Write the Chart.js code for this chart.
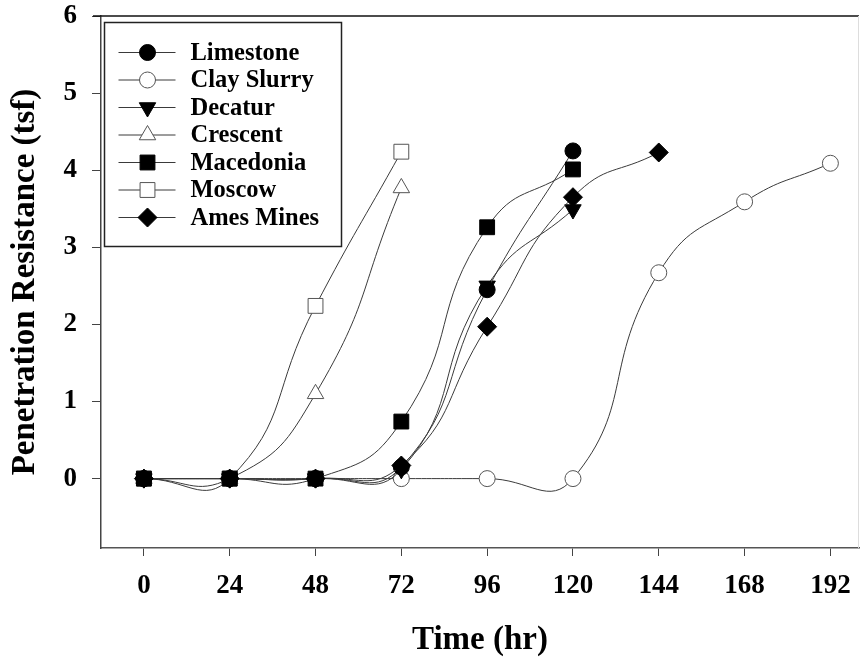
<!DOCTYPE html>
<html><head><meta charset="utf-8">
<script src="https://cdn.jsdelivr.net/npm/chart.js@4"></script>
<style>html,body{margin:0;padding:0;background:#fff}#wrap{width:860px;height:661px}</style>
</head><body><div id="wrap"><canvas id="c" width="860" height="661"></canvas></div>
<script>
// ---- data ----
const xTicks = [0, 24, 48, 72, 96, 120, 144, 168, 192];
const yTicks = [0, 1, 2, 3, 4, 5, 6];
const seriesNames = ['Limestone', 'Clay Slurry', 'Decatur', 'Crescent', 'Macedonia', 'Moscow', 'Ames Mines'];

const limestoneHours = [0, 24, 48, 72, 96, 120];
const limestoneValues = [0, 0, 0, 0.15, 2.45, 4.25];

const claySlurryHours = [0, 24, 48, 72, 96, 120, 144, 168, 192];
const claySlurryValues = [0, 0, 0, 0, 0, 0, 2.67, 3.59, 4.09];

const decaturHours = [0, 24, 48, 72, 96, 120];
const decaturValues = [0, 0, 0, 0.12, 2.5, 3.49];

const crescentHours = [0, 24, 48, 72];
const crescentValues = [0, 0, 1.1, 3.77];

const macedoniaHours = [0, 24, 48, 72, 96, 120];
const macedoniaValues = [0, 0, 0, 0.74, 3.26, 4.01];

const moscowHours = [0, 24, 48, 72];
const moscowValues = [0, 0, 2.24, 4.24];

const amesMinesHours = [0, 24, 48, 72, 96, 120, 144];
const amesMinesValues = [0, 0, 0, 0.17, 1.97, 3.65, 4.23];

// ---- styling ----
const FONT = "'Liberation Serif', 'Times New Roman', serif";
const LINE = '#3a3a3a';
function pts(xs, ys) { return xs.map((x, i) => ({x: x, y: ys[i]})); }

const styles = [
  {style: 'circle', rot: 0, r: 8, fill: '#000', stroke: '#000'},
  {style: 'circle', rot: 0, r: 8, fill: '#fff', stroke: '#555'},
  {style: 'triangle', rot: 180, r: 9.5, fill: '#000', stroke: '#000'},
  {style: 'triangle', rot: 0, r: 9.5, fill: '#fff', stroke: '#555'},
  {style: 'rect', rot: 0, r: 10.5, fill: '#000', stroke: '#000'},
  {style: 'rect', rot: 0, r: 10.5, fill: '#fff', stroke: '#555'},
  {style: 'rectRot', rot: 0, r: 9.5, fill: '#000', stroke: '#000'}
];
const seriesData = [
  pts(limestoneHours, limestoneValues),
  pts(claySlurryHours, claySlurryValues),
  pts(decaturHours, decaturValues),
  pts(crescentHours, crescentValues),
  pts(macedoniaHours, macedoniaValues),
  pts(moscowHours, moscowValues),
  pts(amesMinesHours, amesMinesValues)
];
const drawOrder = [3, 7, 4, 6, 2, 5, 1];

const datasets = seriesNames.map((name, i) => ({
  label: name,
  data: seriesData[i],
  borderColor: LINE,
  borderWidth: 1,
  tension: 0.5,
  pointStyle: styles[i].style,
  rotation: styles[i].rot,
  pointRadius: styles[i].r,
  pointBackgroundColor: styles[i].fill,
  pointBorderColor: styles[i].stroke,
  pointBorderWidth: 1,
  order: drawOrder[i],
  clip: false
}));

const legendPlugin = {
  id: 'customLegend',
  afterDraw(chart) {
    const ctx = chart.ctx;
    const ca = chart.chartArea;
    ctx.save();
    // top & right frame
    ctx.strokeStyle = '#111';
    ctx.lineWidth = 1.5;
    ctx.beginPath(); ctx.moveTo(ca.left - 8, ca.top); ctx.lineTo(ca.right, ca.top); ctx.stroke();
    ctx.strokeStyle = '#ddd';
    ctx.lineWidth = 1;
    ctx.beginPath(); ctx.moveTo(ca.right - 0.5, ca.top); ctx.lineTo(ca.right - 0.5, ca.bottom); ctx.stroke();

    const bx = ca.left + 3.5, by = ca.top + 6.5, bw = 237, bh = 224;
    ctx.fillStyle = '#fff';
    ctx.fillRect(bx, by, bw, bh);
    ctx.strokeStyle = '#222';
    ctx.lineWidth = 1.5;
    ctx.strokeRect(bx, by, bw, bh);
    ctx.font = 'bold 24.5px ' + FONT;
    ctx.textBaseline = 'middle';
    ctx.textAlign = 'left';
    const y0 = by + 30, dy = 27.5;
    seriesNames.forEach((name, i) => {
      const y = y0 + i * dy;
      ctx.strokeStyle = LINE; ctx.lineWidth = 1;
      ctx.beginPath(); ctx.moveTo(bx + 14, y); ctx.lineTo(bx + 71, y); ctx.stroke();
      const s = styles[i];
      ctx.fillStyle = s.fill; ctx.strokeStyle = s.stroke; ctx.lineWidth = 1;
      Chart.helpers.drawPoint(ctx, {pointStyle: s.style, rotation: s.rot, radius: s.r, borderWidth: 1}, bx + 43, y);
      ctx.fillStyle = '#000';
      ctx.fillText(name, bx + 86, y + 1);
    });
    ctx.restore();
  }
};

new Chart(document.getElementById('c'), {
  type: 'line',
  data: {datasets: datasets},
  plugins: [legendPlugin],
  options: {
    responsive: false,
    animation: false,
    events: [],
    layout: {autoPadding: false, padding: {top: 16, right: 1, left: 0, bottom: 0}},
    plugins: {legend: {display: false}, tooltip: {enabled: false}},
    scales: {
      x: {
        type: 'linear',
        min: -12, max: 200,
        afterFit: s => { s.height = 113; s.paddingLeft = 0; s.paddingRight = 0; },
        afterBuildTicks: s => { s.ticks = xTicks.map(v => ({value: v})); },
        grid: {drawOnChartArea: false, drawTicks: true, tickLength: 8, color: '#444', lineWidth: 1},
        border: {display: true, color: '#555', width: 1.5},
        ticks: {color: '#000', padding: 14, maxRotation: 0, autoSkip: false, font: {family: FONT, size: 27, weight: 'bold'}},
        title: {display: true, text: 'Time (hr)', color: '#000', padding: {top: 0, bottom: 1}, font: {family: FONT, size: 33, weight: 'bold'}}
      },
      y: {
        type: 'linear',
        min: -0.9, max: 6,
        afterFit: s => { s.width = 101; s.paddingTop = 0; s.paddingBottom = 0; },
        afterBuildTicks: s => { s.ticks = yTicks.map(v => ({value: v})); },
        grid: {drawOnChartArea: false, drawTicks: true, tickLength: 9, color: '#444', lineWidth: 1},
        border: {display: true, color: '#444', width: 1.5},
        ticks: {color: '#000', padding: 15, autoSkip: false, font: {family: FONT, size: 27, weight: 'bold'}},
        title: {display: true, text: 'Penetration Resistance (tsf)', color: '#000', padding: {top: 6, bottom: 0}, font: {family: FONT, size: 33, weight: 'bold'}}
      }
    }
  }
});
</script>
</body></html>
